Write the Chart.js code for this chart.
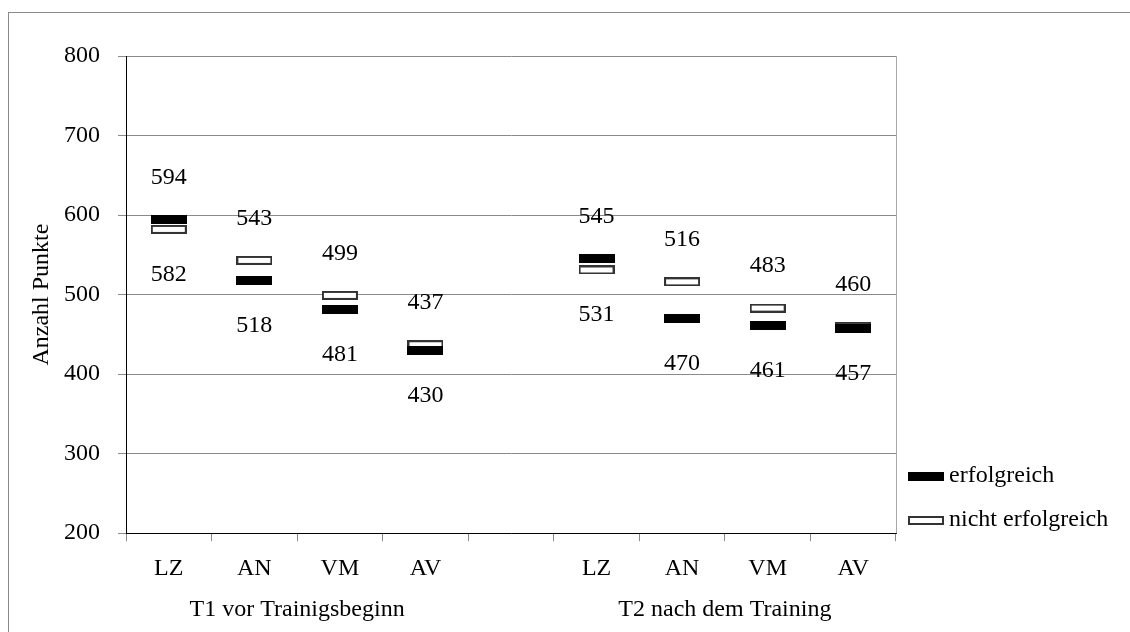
<!DOCTYPE html>
<html>
<head>
<meta charset="utf-8">
<script src="https://cdn.jsdelivr.net/npm/chart.js@4/dist/chart.umd.min.js"></script>
<style>
  html, body { margin: 0; padding: 0; background: #fff; overflow: hidden; }
  #frame { position: absolute; left: 8px; top: 12px; width: 1200px; height: 700px; border: 1px solid #8a8a8a; }
  #wrap { position: absolute; left: 0; top: 0; width: 1130px; height: 632px; }
</style>
</head>
<body>
<div id="frame"></div>
<div id="wrap"><canvas id="chart" width="1130" height="632"></canvas></div>
<script>
// Werte
var categories = ["LZ", "AN", "VM", "AV", "", "LZ", "AN", "VM", "AV"];
var erfolgreich = [594, 518, 481, 430, null, 545, 470, 461, 457];
var nichtErfolgreich = [582, 543, 499, 437, null, 531, 516, 483, 460];
var seriesNames = ["erfolgreich", "nicht erfolgreich"];
var groupLabels = ["T1 vor Trainigsbeginn", "T2 nach dem Training"];
var groupSpans = [[0, 3], [5, 8]];
var yTicks = { min: 200, max: 800, step: 100 };

var FONT = "'Liberation Serif', 'DejaVu Serif', serif";
var FSIZE = 24;

// Markierung als kleines Bild (schwarz gefuellt / weiss mit Rand)
var makeMarker = function( filled ){
	var c = document.createElement("canvas");
	c.width = 36; c.height = 9;
	var g = c.getContext("2d");
	if( filled ){
		g.fillStyle = "#000";
		g.fillRect(0, 0, 36, 9);
	}else{
		g.fillStyle = "#fff";
		g.fillRect(0, 0, 36, 9);
		g.strokeStyle = "#333";
		g.lineWidth = 2;
		g.strokeRect(1, 1, 34, 7);
	}
	return c;
};
var blackMark = makeMarker(true);
var whiteMark = makeMarker(false);

// Zahlen ueber / unter den Markierungen
var valueLabels = {
	id: "valueLabels",
	afterDatasetsDraw: function( chart ){
		var ctx = chart.ctx;
		var m0 = chart.getDatasetMeta(0), m1 = chart.getDatasetMeta(1);
		var d0 = chart.data.datasets[0].data, d1 = chart.data.datasets[1].data;
		ctx.save();
		ctx.font = FSIZE + "px " + FONT;
		ctx.fillStyle = "#000";
		ctx.textAlign = "center";
		ctx.textBaseline = "middle";
		for( var i=0; i<d0.length; i++ ){
			if( d0[i] == null || d1[i] == null ) continue;
			var p0 = m0.data[i], p1 = m1.data[i];
			var top = d0[i] >= d1[i] ? [p0, d0[i]] : [p1, d1[i]];
			var low = d0[i] >= d1[i] ? [p1, d1[i]] : [p0, d0[i]];
			ctx.fillText(String(top[1]), top[0].x, top[0].y - 42);
			ctx.fillText(String(low[1]), low[0].x, low[0].y + 45);
		}
		ctx.restore();
	}
};

// Gruppenbeschriftung, rechter Rahmen und Legende
var extras = {
	id: "extras",
	afterDraw: function( chart ){
		var ctx = chart.ctx, xs = chart.scales.x, area = chart.chartArea;
		ctx.save();
		// rechter Rand der Zeichenflaeche
		ctx.strokeStyle = "#a8a8a8";
		ctx.lineWidth = 1;
		ctx.beginPath();
		ctx.moveTo(Math.round(area.right) + 0.5, area.top);
		ctx.lineTo(Math.round(area.right) + 0.5, area.bottom);
		ctx.stroke();

		ctx.font = FSIZE + "px " + FONT;
		ctx.fillStyle = "#000";
		ctx.textAlign = "center";
		ctx.textBaseline = "middle";
		for( var i=0; i<groupLabels.length; i++ ){
			var x = (xs.getPixelForValue(groupSpans[i][0]) + xs.getPixelForValue(groupSpans[i][1])) / 2;
			ctx.fillText(groupLabels[i], x, area.bottom + 77);
		}

		// Legende
		var marks = [blackMark, whiteMark];
		var ys = [area.bottom - 57, area.bottom - 13];
		ctx.textAlign = "left";
		for( var k=0; k<seriesNames.length; k++ ){
			ctx.drawImage(marks[k], area.right + 12, Math.round(ys[k] - 4));
			ctx.fillText(chart.data.datasets[k].label, area.right + 53, ys[k]);
		}
		ctx.restore();
	}
};

Chart.defaults.font.family = FONT;
Chart.defaults.font.size = FSIZE;
Chart.defaults.color = "#000";

var chart = new Chart(document.getElementById("chart").getContext("2d"), {
	type: "line",
	data: {
		labels: categories,
		datasets: [
			{ label: seriesNames[0], data: erfolgreich, showLine: false, pointStyle: blackMark, pointRadius: 5 },
			{ label: seriesNames[1], data: nichtErfolgreich, showLine: false, pointStyle: whiteMark, pointRadius: 5 }
		]
	},
	options: {
		responsive: false,
		animation: false,
		events: [],
		layout: { padding: { left: 0, right: 234, top: 56, bottom: 36 } },
		scales: {
			x: {
				offset: true,
				grid: { offset: true, drawOnChartArea: false, drawTicks: true, tickLength: 8, color: "#8a8a8a" },
				border: { color: "#000", width: 1 },
				ticks: { padding: 13, autoSkip: false, maxRotation: 0 }
			},
			y: {
				min: yTicks.min, max: yTicks.max,
				ticks: { stepSize: yTicks.step, padding: 18 },
				grid: { color: "#8a8a8a", tickLength: 8 },
				border: { color: "#000", width: 1 },
				title: { display: true, text: "Anzahl Punkte", padding: { top: 27, bottom: 0 } },
				afterFit: function( s ){ s.width = 126; }
			}
		},
		plugins: {
			tooltip: { enabled: false },
			legend: { display: false }
		}
	},
	plugins: [valueLabels, extras]
});
</script>
</body>
</html>
